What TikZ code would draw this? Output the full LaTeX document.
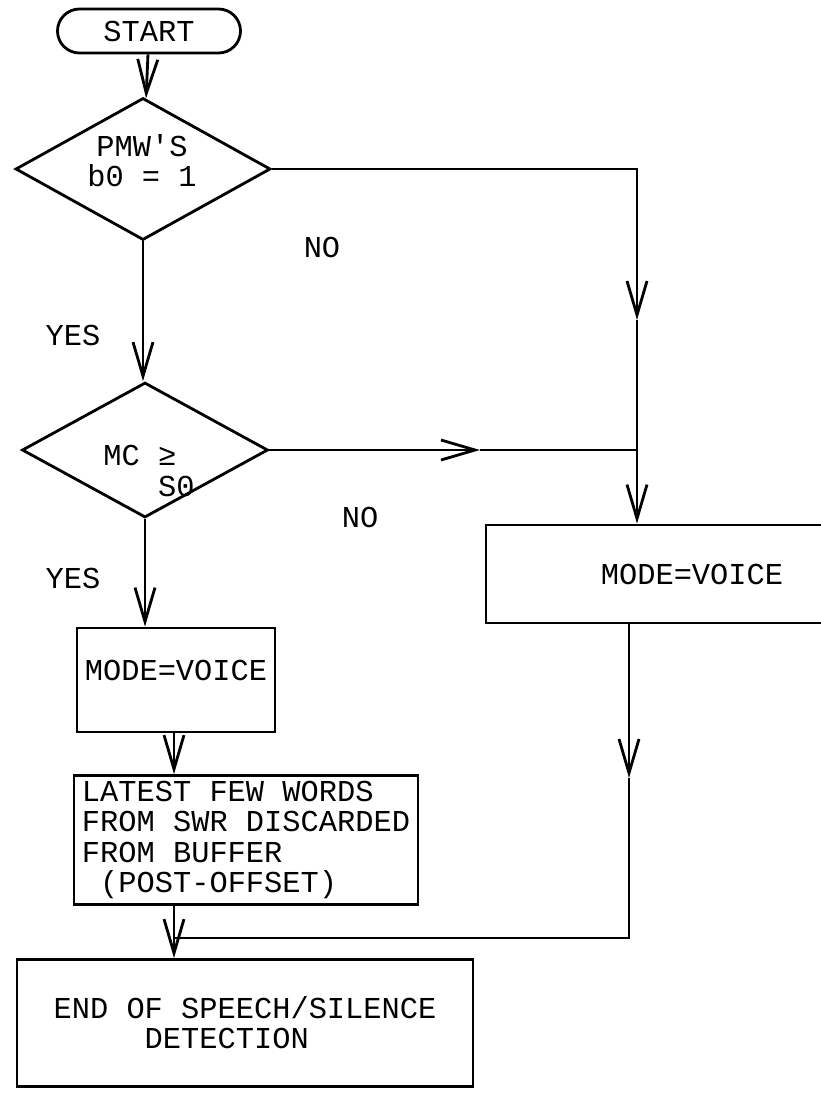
\documentclass[tikz,border=0pt]{standalone}
\usepackage{fontspec}
\setmonofont{Liberation Mono}
\usetikzlibrary{shapes.geometric,shapes.misc,arrows.meta}
\tikzset{
    every node/.style={
        font=\ttfamily\fontsize{21.6pt}{21.5pt}\selectfont
    },
    startnode/.style={ % requires library shapes.misc
        draw,
        rounded rectangle,
        inner sep=0pt
    },
    decision/.style={ % requires library shapes.geometric
        draw,
        diamond,
        inner sep=0pt
    },
    block/.style={
        draw,
        rectangle,
        inner sep=0pt
    },
    arrow/.style={
        -{Straight Barb[length=0.85cm,width=0.5cm]}
    }
}

\begin{document}
\begin{tikzpicture}[x=0.025cm,y=-0.025cm,line width=2pt]
        \def\px{0.025cm}
        \useasboundingbox (0,0) rectangle (821,1093);

        \node[startnode, minimum width=183*\px, minimum height=44*\px] (start) at (149,31) {START};
        \node[decision, minimum width=255*\px, minimum height=142*\px] (pmw) at (143,169) {};
        \node[align=center] (pmwtxt) at (142,161) {PMW\textquotesingle S\\b0 = 1};
        \node[decision, minimum width=246*\px, minimum height=135*\px] (mc) at (145,450) {};
        \node[align=left] (mctxt) at (149,471) {MC ≥\\\hspace*{1.8em}S0};

        \node[block, minimum width=198*\px, minimum height=104*\px, text depth=0.5cm] (voiceA) at (176,680) {MODE=VOICE};
        \node[block, minimum width=344*\px, minimum height=129*\px, align=left] (latest) at (246,840) {LATEST FEW WORDS\\FROM SWR DISCARDED\\FROM BUFFER\\~(POST-OFFSET)};
        \node[block, minimum width=456*\px, minimum height=127*\px, align=left] (eos) at (245,1023) {END OF SPEECH/SILENCE\\\hspace*{3em}DETECTION};
        \node[block, minimum width=412*\px, minimum height=98*\px] (voiceB) at (692,574) {MODE=VOICE};

        \node (noA) at (322,247) {NO};
        \node (yesA) at (73,335) {YES};
        \node (noB) at (360,517) {NO};
        \node (yesB) at (73,578) {YES};

        \coordinate (cA) at (637,169);
        \coordinate (aA) at (637,320);
        \coordinate (aB) at (480,450);
        \coordinate (aC) at (629,778);
        \coordinate (cC) at (629,938);
        \coordinate (jA) at (174,0);

        \draw[arrow] (start) -- (pmw);
        \draw[arrow] (pmw.south) -- (pmw.south |- mc.north);
        \draw[arrow] (pmw.east) -- (cA) -- (aA);
        \draw[arrow] (aA) -- (aA |- voiceB.north);
        \draw[arrow] (mc.east) -- (aB);
        \draw (aB) -- (aB -| cA);
        \draw[arrow] (mc.south) -- (mc.south |- voiceA.north);
        \draw[arrow] (jA |- voiceA.south) -- (jA |- latest.north);
        \draw[arrow] (jA |- latest.south) -- (jA |- eos.north);
        \draw[arrow] (aC |- voiceB.south) -- (aC);
        \draw (aC) -- (cC) -- (cC -| jA);
\end{tikzpicture}
\end{document}
